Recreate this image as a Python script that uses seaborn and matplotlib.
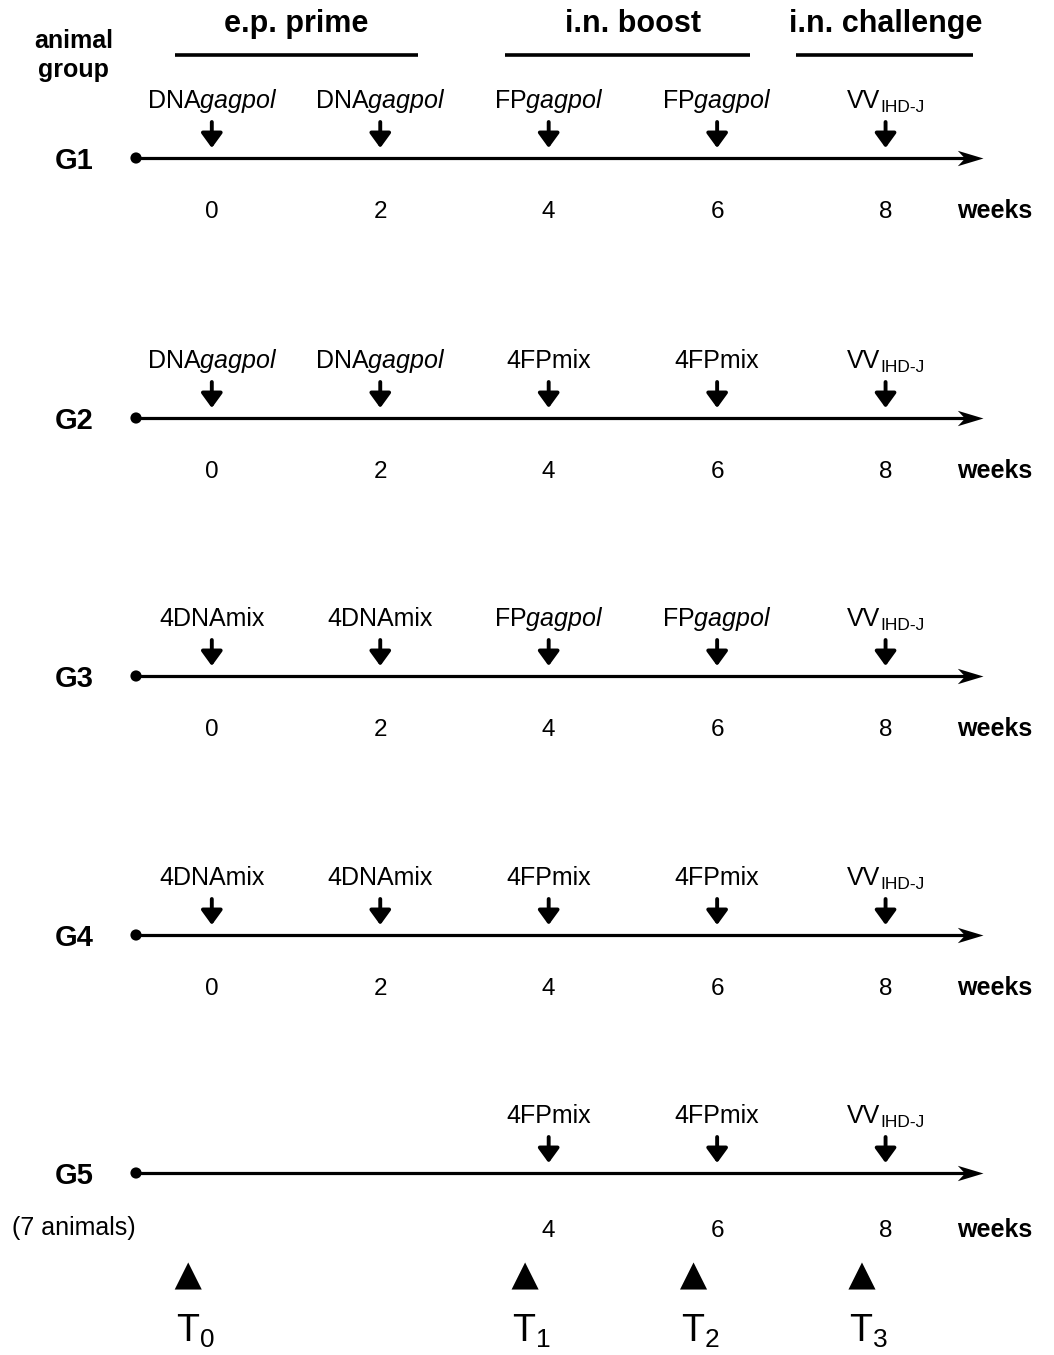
import numpy as np
import pandas as pd
import seaborn as sns
import matplotlib.pyplot as plt
from matplotlib.path import Path

# schedule data
groups = ["G1", "G2", "G3", "G4", "G5"]
weeks = [0, 2, 4, 6, 8]
g1_doses = ["DNA$\\mathit{gagpol}$", "DNA$\\mathit{gagpol}$", "FP$\\mathit{gagpol}$", "FP$\\mathit{gagpol}$", "VV"]
g2_doses = ["DNA$\\mathit{gagpol}$", "DNA$\\mathit{gagpol}$", "4FPmix", "4FPmix", "VV"]
g3_doses = ["4DNAmix", "4DNAmix", "FP$\\mathit{gagpol}$", "FP$\\mathit{gagpol}$", "VV"]
g4_doses = ["4DNAmix", "4DNAmix", "4FPmix", "4FPmix", "VV"]
g5_doses = [None, None, "4FPmix", "4FPmix", "VV"]
doses = [g1_doses, g2_doses, g3_doses, g4_doses, g5_doses]
challenge_sub = "IHD-J"

phases = ["e.p. prime", "i.n. boost", "i.n. challenge"]
phase_start = [-0.44, 3.48, 6.94]
phase_end = [2.45, 6.39, 9.04]
phase_center = [1, 5, 8]

sample_names = ["0", "1", "2", "3"]
sample_weeks = [0, 4, 6, 8]

# layout (pixel rows, x axis in weeks)
row_y = [158, 418, 676, 935, 1173]
x_left, x_right = -2.515, 10.0
line_start, line_end = -0.90, 9.16
label_x = -1.64

sns.set_theme(style="white")
plt.rcParams["font.family"] = ["Liberation Sans", "DejaVu Sans"]
plt.rcParams["text.color"] = "black"
plt.rcParams["mathtext.fontset"] = "custom"
plt.rcParams["mathtext.rm"] = "Liberation Sans"
plt.rcParams["mathtext.it"] = "Liberation Sans:italic"

# stealth-like arrow head, tip at origin
head = Path([(0, 0), (-1, 0.3), (-0.72, 0), (-1, -0.3), (0, 0)],
            [Path.MOVETO, Path.LINETO, Path.LINETO, Path.LINETO, Path.CLOSEPOLY])

fig = plt.figure(figsize=(10.54, 13.55), dpi=100)
ax = fig.add_axes([0, 0, 1, 1])
ax.set_xlim(x_left, x_right)
ax.set_ylim(1355, 0)
ax.axis("off")

# header
ax.text(label_x, 48, "animal", ha="center", va="baseline", fontsize=18, fontweight="bold")
ax.text(label_x, 77, "group", ha="center", va="baseline", fontsize=18, fontweight="bold")
for name, s, e, c in zip(phases, phase_start, phase_end, phase_center):
    ax.text(c, 32, name, ha="center", va="baseline", fontsize=22, fontweight="bold")
    ax.plot([s, e], [55, 55], color="black", lw=2.6, solid_capstyle="butt")

# timelines
starts = pd.DataFrame({"x": [line_start] * len(groups), "y": row_y})
sns.scatterplot(data=starts, x="x", y="y", color="black", s=65, ax=ax, zorder=3, edgecolor="none")

for i, (g, y) in enumerate(zip(groups, row_y)):
    ax.plot([line_start, line_end - 0.2], [y, y], color="black", lw=2.3, solid_capstyle="butt")
    ax.plot([line_end], [y], marker=head, markersize=37, color="black", markeredgewidth=0)
    ax.text(label_x, y + 11, g, ha="center", va="baseline", fontsize=21, fontweight="bold")
    wk_off = 64 if g == "G5" else 60
    for w, d in zip(weeks, doses[i]):
        if d is None:
            continue
        ax.annotate("", xy=(w, y - 10), xytext=(w, y - 36),
                    arrowprops=dict(arrowstyle="-|>,head_length=0.55,head_width=0.4",
                                    lw=2.8, color="black", mutation_scale=16,
                                    shrinkA=0, shrinkB=0))
        if d == "VV":
            ax.annotate("VV", xy=(w, y - 50), xytext=(-4, 0), textcoords="offset points",
                        ha="right", va="baseline", fontsize=18)
            ax.annotate(challenge_sub, xy=(w, y - 46), xytext=(-4, 0), textcoords="offset points",
                        ha="left", va="baseline", fontsize=12.5)
        else:
            ax.text(w, y - 50, d, ha="center", va="baseline", fontsize=18)
        ax.text(w, y + wk_off, str(w), ha="center", va="baseline", fontsize=17.5)
    ax.text(8.85, y + wk_off, "weeks", ha="left", va="baseline", fontsize=18, fontweight="bold")

ax.text(label_x, row_y[4] + 62, "(7 animals)", ha="center", va="baseline", fontsize=18)

# sampling time points
samples = pd.DataFrame({"x": np.array(sample_weeks) - 0.28, "y": [1276] * len(sample_weeks)})
sns.scatterplot(data=samples, x="x", y="y", marker="^", color="black", s=380, ax=ax,
                edgecolor="none")
for n, w in zip(sample_names, sample_weeks):
    ax.text(w - 0.28 - 0.15, 1342, "T$_{" + n + "}$", ha="left", va="baseline", fontsize=27)

ax.set_xlim(x_left, x_right)
ax.set_ylim(1355, 0)
ax.set_xlabel("")
ax.set_ylabel("")
fig.savefig("out.png", dpi=100)
plt.close()
